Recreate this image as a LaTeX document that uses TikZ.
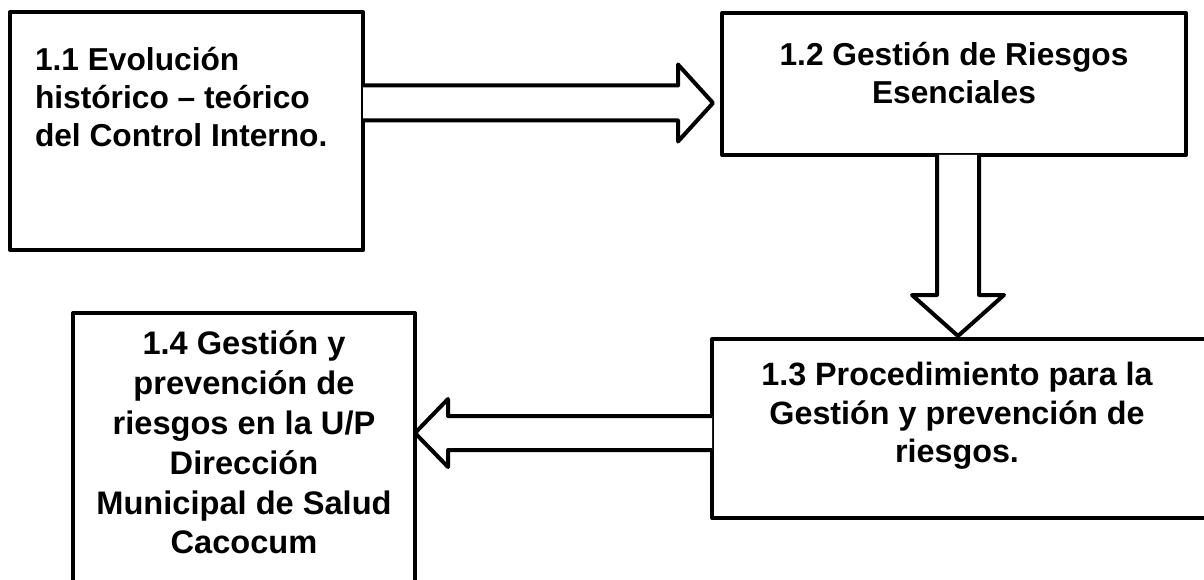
\documentclass[tikz,border=0pt]{standalone}
\usepackage{fontspec}
\setmainfont{Liberation Sans}
\usetikzlibrary{positioning,calc}

\begin{document}
\begin{tikzpicture}[x=1pt, y=-1pt, line width=4pt, line join=round,
		caja/.style = {draw, rectangle, inner sep=0pt, outer sep=0pt},
		texto/.style = {font=\fontsize{31.7}{38}\selectfont\bfseries, inner sep=0pt},
		texto grande/.style = {texto, font=\fontsize{32.6}{39.8}\selectfont\bfseries},
		flecha/.style = {draw, fill=white}]
			\useasboundingbox (0,0) rectangle (1204,580);
			\clip (0,0) rectangle (1204,580);

			\node[caja, minimum width=353, minimum height=238] (B1) at (186.5,131) {};
			\node[caja, minimum width=464, minimum height=142] (B2) at (954,84) {};
			\node[caja, minimum width=494, minimum height=179] (B3) at (959,428.5) {};
			\node[caja, minimum width=342, minimum height=287] (B4) at (244,456.5) {};

			\node[texto, align=left, below right=33pt and 23pt of B1.north west] (T1)
				{1.1 Evolución\\histórico – teórico\\del Control Interno.};
			\node[texto, align=center, below=27pt of B2.north] (T2)
				{1.2 Gestión de Riesgos\\Esenciales};
			\node[texto, font=\fontsize{32.3}{38.6}\selectfont\bfseries, align=center,
				below=21pt of B3.north, xshift=-2pt] (T3)
				{1.3 Procedimiento para la\\Gestión y prevención de\\riesgos.};
			\node[texto grande, align=center, below=16pt of B4.north] (T4)
				{1.4 Gestión y\\prevención de\\riesgos en la U/P\\Dirección\\Municipal de Salud\\Cacocum};

			% ends of the broad arrows
			\coordinate (A1) at (B1.east |- 0,103);
			\coordinate (A2) at ($(B2.west |- 0,103)+(-9,0)$);
			\coordinate (D1) at (B2.south -| 958,0);
			\coordinate (D2) at ($(B3.north -| 958,0)+(0,-3)$);
			\coordinate (L1) at (B3.west |- 0,433);
			\coordinate (L2) at (B4.east |- 0,433);

			\draw[flecha] ($(A1)+(0,-17.5)$) -- ($(A2)+(-35,-17.5)$) -- ($(A2)+(-35,-38.5)$) -- (A2)
				-- ($(A2)+(-35,38.5)$) -- ($(A2)+(-35,17.5)$) -- ($(A1)+(0,17.5)$);
			\draw[flecha] ($(D1)+(-21,0)$) -- ($(D2)+(-21,-41)$) -- ($(D2)+(-46,-41)$) -- (D2)
				-- ($(D2)+(46,-41)$) -- ($(D2)+(21,-41)$) -- ($(D1)+(21,0)$);
			\draw[flecha] ($(L1)+(0,-17)$) -- ($(L2)+(33,-17)$) -- ($(L2)+(33,-34)$) -- (L2)
				-- ($(L2)+(33,34)$) -- ($(L2)+(33,17)$) -- ($(L1)+(0,17)$);

		\end{tikzpicture}
\end{document}
